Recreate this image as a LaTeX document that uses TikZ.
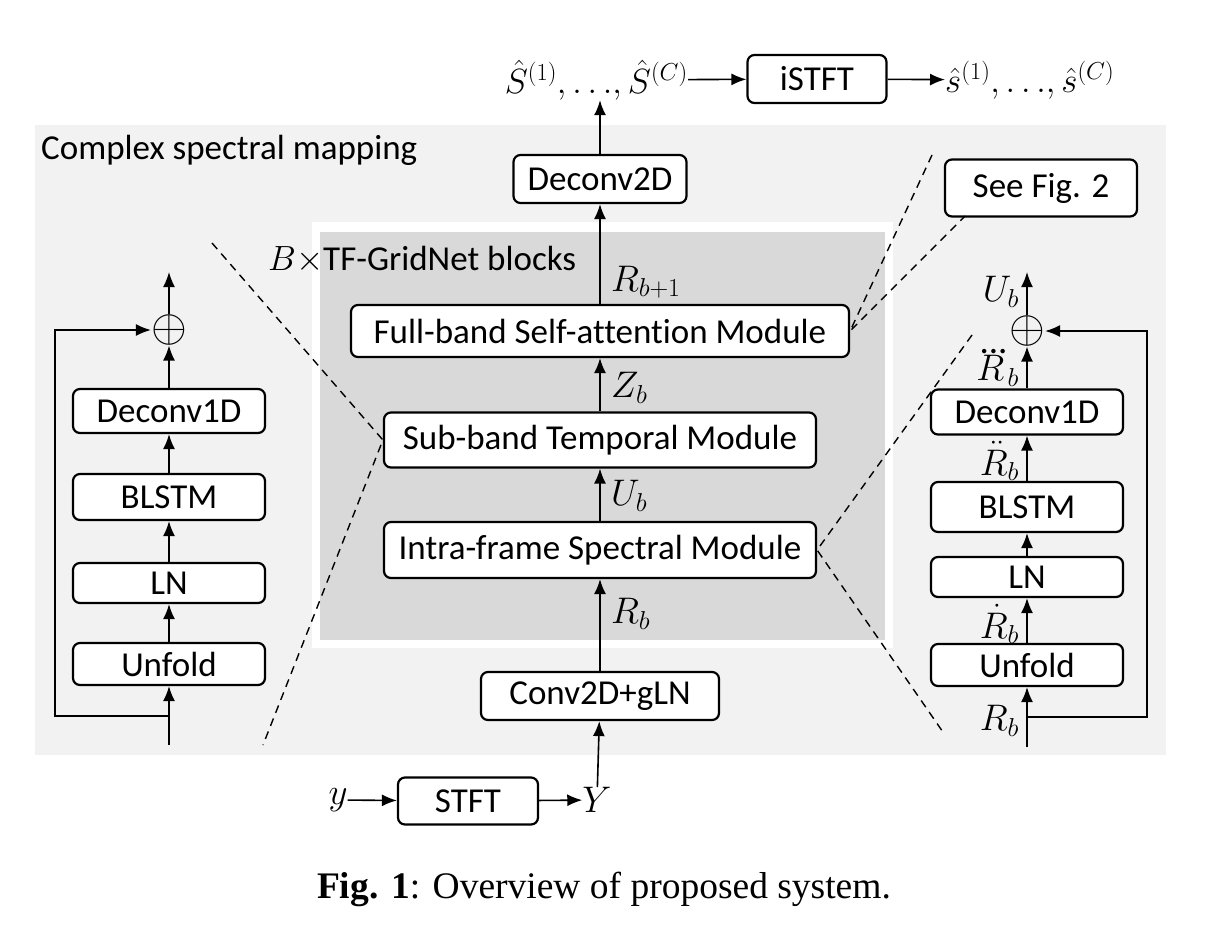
\RequirePackage{fix-cm}
\documentclass[tikz,border=0pt]{standalone}
\usepackage{amsmath}
\usepackage{fontspec}
\setmainfont{Carlito}[Ligatures=NoCommon]
\newfontfamily\capfont{Liberation Serif}
\usetikzlibrary{positioning,arrows.meta,calc}
\definecolor{bgout}{HTML}{F2F2F2}
\definecolor{bgin}{HTML}{D9D9D9}
\tikzset{blk/.style={draw,rounded corners=7pt,line width=2.2pt,fill=white,inner sep=0pt,font=\fontsize{35}{40}\selectfont}}
\tikzset{lbl/.style={inner sep=0pt,font=\fontsize{35}{40}\selectfont}}
\tikzset{mlbl/.style={inner sep=0pt,font=\fontsize{37}{42}\selectfont}}
\tikzset{sumsym/.style={inner sep=0pt,font=\fontsize{46}{50}\selectfont}}
\tikzset{arr/.style={-{Latex[length=15pt,width=12pt]},line width=1.6pt}}
\tikzset{zoomln/.style={line width=1.4pt,dash pattern=on 8pt off 6pt}}

\begin{document}
\begin{tikzpicture}[x=1pt,y=-1pt]
	\useasboundingbox (0,0) rectangle (1228,938);
	\fill[bgout] (35,125) rectangle (1166,755);
	\fill[white] (312,222) rectangle (893,648);
	\fill[bgin] (320,232) rectangle (885,640);
	\node[lbl,anchor=west] (title) at (41,150) {Complex spectral mapping};
	\node[lbl,anchor=west] (nblk) at (268,260) {$B\times$TF-GridNet blocks};
	% top
	\node[lbl,anchor=east] (Shat) at (688,80) {$\hat{S}^{(1)},{\ldots},\hat{S}^{(C)}$};
	\node[blk,minimum width=139pt,minimum height=48pt] (istft) at (817,79) {iSTFT};
	\node[lbl,anchor=west] (shat) at (945,80) {$\hat{s}^{(1)},{\ldots},\hat{s}^{(C)}$};
	\node[blk,minimum width=173pt,minimum height=48pt] (dec2) at (600,179) {Deconv2D};
	\node[blk,minimum width=192pt,minimum height=57pt] (seefig) at (1041,188) {See Fig. 2};
	% TF-GridNet block
	\node[blk,minimum width=498pt,minimum height=52pt] (full) at (600,331) {Full-band Self-attention Module};
	\node[blk,minimum width=432pt,minimum height=55pt] (sub) at (600,440) {Sub-band Temporal Module};
	\node[blk,minimum width=432pt,minimum height=56pt] (intra) at (600,550) {Intra-frame Spectral Module};
	\node[blk,minimum width=238pt,minimum height=48pt] (conv) at (600,696) {Conv2D+gLN};
	\node[mlbl,anchor=west] (rb1) at (611,282) {$R_{b+1}$};
	\node[mlbl,anchor=west] (zb) at (611,388) {$Z_b$};
	\node[mlbl,anchor=west] (ub) at (611,496) {$U_b$};
	\node[mlbl,anchor=west] (rb) at (611,614) {$R_b$};
	% bottom
	\node[mlbl] (y) at (338,800) {$y$};
	\node[blk,minimum width=140pt,minimum height=47pt] (stft) at (468,801) {STFT};
	\node[mlbl] (Y) at (597,800) {$Y$};
	\draw[arr] (y) -- (stft);
	\draw[arr] (stft) -- (Y);
	\draw[arr] (Y) -- (conv);
	\draw[arr] (conv) -- (intra);
	\draw[arr] (intra) -- (sub);
	\draw[arr] (sub) -- (full);
	\draw[arr] (full) -- (dec2);
	\draw[arr] (dec2.north) -- (dec2.north |- Shat.south);
	\draw[arr] (Shat) -- (istft);
	\draw[arr] (istft) -- (shat);
	% left: sub-band module
	\node[blk,minimum width=192pt,minimum height=42pt] (lunf) at (169,664) {Unfold};
	\node[blk,minimum width=192pt,minimum height=40pt] (lln) at (169,583) {LN};
	\node[blk,minimum width=192pt,minimum height=46pt] (lrnn) at (169,497) {BLSTM};
	\node[blk,minimum width=192pt,minimum height=44pt] (ldec) at (169,411) {Deconv1D};
	\node[sumsym] (lsum) at (169,330) {$\oplus$};
	\coordinate (lin) at (169,745);
	\coordinate (lfork) at (169,716);
	\coordinate (lres) at (55,330);
	\coordinate (lout) at (169,272);
	\draw[arr] (lin) -- (lunf);
	\draw[arr] (lunf) -- (lln);
	\draw[arr] (lln) -- (lrnn);
	\draw[arr] (lrnn) -- (ldec);
	\draw[arr] (ldec) -- (lsum);
	\draw[arr] (lsum) -- (lout);
	\draw[arr] (lfork) -| (lres) -- (lsum);
	% right: intra-frame module
	\node[blk,minimum width=192pt,minimum height=42pt] (runf) at (1027,665) {Unfold};
	\node[blk,minimum width=192pt,minimum height=40pt] (rln) at (1027,577) {LN};
	\node[blk,minimum width=192pt,minimum height=50pt] (rrnn) at (1027,507) {BLSTM};
	\node[blk,minimum width=192pt,minimum height=45pt] (rdec) at (1027,412) {Deconv1D};
	\node[sumsym] (rsum) at (1027,331) {$\oplus$};
	\coordinate (rin) at (1027,747);
	\coordinate (rfork) at (1027,717);
	\coordinate (rres) at (1147,331);
	\coordinate (rout) at (1027,272);
	\node[mlbl,anchor=east] (rrb) at (1019,721) {$R_b$};
	\node[mlbl,anchor=east] (rrd1) at (1019,624) {$\dot{R}_b$};
	\node[mlbl,anchor=east] (rrd2) at (1019,461) {$\ddot{R}_b$};
	\node[mlbl,anchor=east] (rrd3) at (1019,368) {$\dddot{R}_b$};
	\node[mlbl,anchor=east] (rub) at (1019,292) {$U_b$};
	\draw[arr] (rin) -- (runf);
	\draw[arr] (runf) -- (rln);
	\draw[arr] (rln) -- (rrnn);
	\draw[arr] (rrnn) -- (rdec);
	\draw[arr] (rdec) -- (rsum);
	\draw[arr] (rsum) -- (rout);
	\draw[arr] (rfork) -| (rres) -- (rsum);
	% zoom lines
	\coordinate (lz1) at (212,243);
	\coordinate (lz2) at (263,745);
	\coordinate (rz1) at (932,155);
	\coordinate (rz2) at (965,216);
	\coordinate (rz3) at (972,335);
	\coordinate (rz4) at (945,735);
	\draw[zoomln] (lz1) -- (sub.west) -- (lz2);
	\draw[zoomln] (rz1) -- (full.east) -- (rz2);
	\draw[zoomln] (rz3) -- (intra.east) -- (rz4);
	% caption
	\node[font=\capfont\fontsize{37.5}{42}\selectfont] (cap) at (604,889) {\textbf{Fig. 1}: Overview of proposed system.};
\end{tikzpicture}
\end{document}
